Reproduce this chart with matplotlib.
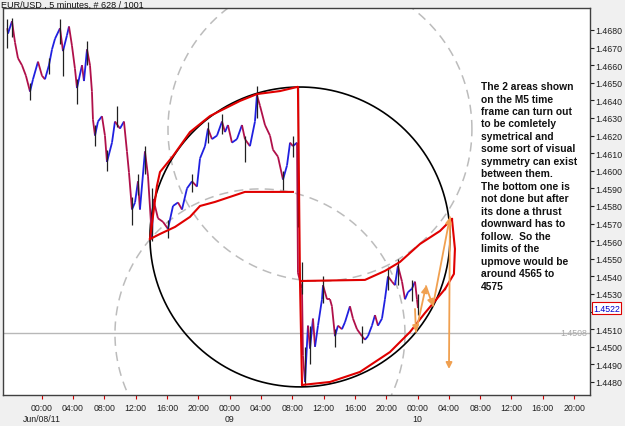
import numpy as np
import matplotlib
matplotlib.use("Agg")
import matplotlib.pyplot as plt
from matplotlib.collections import LineCollection

plt.rcParams['font.family'] = ['Liberation Sans', 'DejaVu Sans']

# EUR/USD 5 min path (hours from Jun/08 00:00)
hours = [-4.39, -4.30, -3.79, -3.41, -3.03, -2.52, -2.01, -1.49, -1.11, -0.47,
         0.04, 0.42, 0.93, 1.32, 1.70, 2.34, 2.72, 3.23, 3.49, 3.87,
         4.25, 4.51, 5.15, 5.40, 5.79, 6.17, 6.42, 6.55, 6.81, 7.19,
         7.70, 8.08, 8.34, 8.98, 9.36, 10.00, 10.51, 10.89, 11.15, 11.53,
         11.92, 12.30, 12.55, 13.19, 13.58, 14.09, 14.22, 14.47, 14.85, 15.49,
         16.13, 16.77, 17.41, 17.92, 18.56, 19.20, 19.83, 20.22, 20.86, 21.24,
         21.75, 22.39, 23.03, 23.41, 23.79, 24.30, 24.94, 25.58, 25.96, 26.60,
         27.24, 27.49, 27.88, 28.52, 29.16, 29.54, 30.18, 30.82, 31.33, 31.72,
         32.09, 32.61, 32.73, 33.25, 33.37, 33.63, 34.01, 34.27, 34.65, 34.91,
         35.29, 35.80, 35.93, 36.44, 36.82, 37.07, 37.46, 37.84, 38.35, 38.74,
         39.37, 39.76, 40.27, 40.91, 41.29, 41.67, 42.18, 42.57, 42.95, 43.46,
         43.84, 44.23, 44.74, 45.12, 45.50, 46.02, 46.40, 46.78, 47.29, 47.68,
         47.93, 48.06]
close = [1.4681, 1.4678, 1.4685, 1.4673, 1.4664, 1.4660, 1.4654, 1.4645, 1.4652, 1.4662,
         1.4654, 1.4652, 1.4660, 1.4669, 1.4675, 1.4681, 1.4668, 1.4677, 1.4682, 1.4671,
         1.4658, 1.4647, 1.4660, 1.4651, 1.4669, 1.4660, 1.4645, 1.4629, 1.4620, 1.4628,
         1.4631, 1.4620, 1.4605, 1.4616, 1.4628, 1.4624, 1.4628, 1.4611, 1.4599, 1.4578,
         1.4582, 1.4594, 1.4578, 1.4611, 1.4597, 1.4561, 1.4584, 1.4580, 1.4573, 1.4571,
         1.4567, 1.4580, 1.4582, 1.4578, 1.4590, 1.4594, 1.4591, 1.4607, 1.4614, 1.4624,
         1.4618, 1.4620, 1.4628, 1.4622, 1.4626, 1.4616, 1.4618, 1.4626, 1.4618, 1.4614,
         1.4628, 1.4643, 1.4637, 1.4626, 1.4620, 1.4612, 1.4608, 1.4595, 1.4603, 1.4616,
         1.4614, 1.4616, 1.4542, 1.4533, 1.4495, 1.4480, 1.4512, 1.4499, 1.4516, 1.4500,
         1.4512, 1.4527, 1.4535, 1.4527, 1.4527, 1.4523, 1.4506, 1.4512, 1.4510, 1.4514,
         1.4523, 1.4516, 1.4510, 1.4506, 1.4504, 1.4506, 1.4512, 1.4518, 1.4512, 1.4516,
         1.4527, 1.4540, 1.4537, 1.4535, 1.4546, 1.4537, 1.4527, 1.4531, 1.4533, 1.4537,
         1.4527, 1.4522]

# bar wicks that stick out of the path
spike_t = [-4.39, -3.79, -1.49, 0.93, 2.34, 2.72, 4.51, 5.79, 6.81, 8.34,
           9.62, 11.53, 12.30, 13.19, 14.09, 16.13, 19.20, 21.24, 23.03, 25.96,
           27.49, 30.82, 32.09, 32.73, 33.25, 33.63, 34.27, 35.93, 37.46, 40.91,
           44.23, 45.50, 47.29, 48.06]
spike_hi = [1.4686, 1.4687, 1.4650, 1.4664, 1.4686, 1.4670, 1.4652, 1.4674, 1.4626, 1.4612,
            1.4637, 1.4585, 1.4598, 1.4614, 1.4590, 1.4572, 1.4598, 1.4628, 1.4632, 1.4620,
            1.4648, 1.4600, 1.4620, 1.4648, 1.4548, 1.4500, 1.4512, 1.4540, 1.4510, 1.4512,
            1.4544, 1.4550, 1.4538, 1.4530]
spike_lo = [1.4670, 1.4676, 1.4640, 1.4655, 1.4672, 1.4654, 1.4638, 1.4660, 1.4614, 1.4600,
            1.4625, 1.4569, 1.4586, 1.4598, 1.4560, 1.4562, 1.4588, 1.4616, 1.4621, 1.4605,
            1.4630, 1.4589, 1.4608, 1.4568, 1.4530, 1.4478, 1.4490, 1.4525, 1.4500, 1.4502,
            1.4532, 1.4535, 1.4526, 1.4518]

# red outlines of the two areas
up_top_t = [13.83, 14.72, 15.11, 16.77, 18.94, 21.49, 22.77, 25.33, 27.50, 30.43, 32.61]
up_top_p = [1.45612, 1.45914, 1.45993, 1.46084, 1.46220, 1.46311, 1.46340, 1.46397, 1.46436, 1.46453, 1.46476]
up_bot_t = [13.83, 15.11, 17.03, 18.94, 20.22, 22.13, 25.96, 28.52, 32.09]
up_bot_p = [1.45612, 1.45641, 1.45681, 1.45738, 1.45800, 1.45823, 1.45880, 1.45880, 1.45880]
split_t = [32.73, 32.99, 33.25]
split_p = [1.46476, 1.45374, 1.44783]
lo_top_t = [33.25, 41.29, 43.84, 45.76, 48.31, 50.87, 52.40]
lo_top_p = [1.45374, 1.45380, 1.45431, 1.45482, 1.45584, 1.45658, 1.45726]
lo_right_t = [52.40, 52.78, 52.65, 51.51]
lo_right_p = [1.45726, 1.45556, 1.45414, 1.45328]
lo_bot_t = [33.25, 36.82, 40.65, 44.48, 47.04, 48.95, 51.51]
lo_bot_p = [1.44783, 1.44800, 1.44857, 1.44970, 1.45084, 1.45192, 1.45328]

# orange projected moves
arrow_t = [47.68, 47.80, 49.08, 49.97, 52.14, 52.02]
arrow_p = [1.45215, 1.45084, 1.45345, 1.45232, 1.45737, 1.44874]

# circles: centre (h, price), radii (h, price)
black_circle = (32.99, 1.45624, 19.16, 0.00852)
dash_circles = [(35.54, 1.46237, 19.41, 0.00864), (27.88, 1.45073, 18.52, 0.00824)]

xticks = list(range(0, 72, 4))
xlabels = ['00:00\nJun/08/11', '04:00', '08:00', '12:00', '16:00', '20:00',
           '00:00\n09', '04:00', '08:00', '12:00', '16:00', '20:00',
           '00:00\n10', '04:00', '08:00', '12:00', '16:00', '20:00']
yticks = [1.4480 + 0.001 * i for i in range(21)]
last_price = 1.4522
ref_line = 1.4508

note = ("The 2 areas shown\non the M5 time\nframe can turn out\nto be comletely\n"
        "symetrical and\nsome sort of visual\nsymmetry can exist\nbetween them.\n"
        "The bottom one is\nnot done but after\nits done a thrust\ndownward has to\n"
        "follow.  So the\nlimits of the\nupmove would be\naround 4565 to\n4575")

fig = plt.figure(figsize=(6.25, 4.27), dpi=100, facecolor='#f0f0f0')
ax = fig.add_axes([3 / 625, 31 / 427, 587 / 625, 387 / 427])
ax.set_facecolor('white')

ax.axhline(ref_line, color='#b8b8b8', lw=1, zorder=1)
ax.text(69.7, ref_line, '%.4f' % ref_line, color='#a8a8a8', fontsize=6.3,
        ha='right', va='center', zorder=1)

th = np.linspace(0, 2 * np.pi, 500)
for cx, cy, rx, ry in dash_circles:
    ax.plot(cx + rx * np.cos(th), cy + ry * np.sin(th), color='#bcbcbc', lw=1.1,
            dashes=(6, 4), zorder=2)
cx, cy, rx, ry = black_circle
ax.plot(cx + rx * np.cos(th), cy + ry * np.sin(th), color='black', lw=1.2, zorder=3)

# price: up moves blue, down moves red, wicks black
pts = np.column_stack([hours, close])
segs = np.stack([pts[:-1], pts[1:]], axis=1)
cols = ['#2020e0' if b > a else '#b0104a' for a, b in zip(close[:-1], close[1:])]
ax.add_collection(LineCollection(segs, colors=cols, linewidths=1.3, zorder=4))
ax.vlines(spike_t, spike_lo, spike_hi, color='#202020', lw=0.9, zorder=4)

red = dict(color='#e00000', lw=1.5, zorder=5)
for tt, pp in [(up_top_t, up_top_p), (up_bot_t, up_bot_p), (split_t, split_p),
               (lo_top_t, lo_top_p), (lo_right_t, lo_right_p), (lo_bot_t, lo_bot_p)]:
    ax.plot(tt, pp, **red)

for i in range(len(arrow_t) - 1):
    ax.annotate('', xy=(arrow_t[i + 1], arrow_p[i + 1]), xytext=(arrow_t[i], arrow_p[i]),
                arrowprops=dict(arrowstyle='-|>', color='#f0a050', lw=1.3,
                                mutation_scale=9, shrinkA=0, shrinkB=0), zorder=6)

ax.text(56.1, 1.46510, note, fontsize=7.4, fontweight='bold', va='top', ha='left',
        linespacing=1.31, color='#111111')

ax.set_xlim(-4.94, 70.03)
ax.set_ylim(1.44726, 1.46925)
ax.yaxis.tick_right()
ax.set_yticks(yticks)
# the 1.4520 label sits under the last-price box
ax.set_yticklabels(['' if abs(v - 1.4520) < 1e-6 else '%.4f' % v for v in yticks])
ax.set_xticks(xticks)
ax.set_xticklabels(xlabels)
ax.tick_params(axis='y', labelsize=6.3, length=3, pad=1, colors='#202020')
ax.tick_params(axis='x', labelsize=6.3, length=3, pad=3, color='#cc0000', labelcolor='#202020')
for s in ax.spines.values():
    s.set_color('#404040')
    s.set_linewidth(1)

ax.text(1.005, last_price, '%.4f' % last_price, transform=ax.get_yaxis_transform(),
        fontsize=6.3, color='#0000cc', va='center', ha='left',
        bbox=dict(fc='white', ec='#dd0000', lw=0.8, pad=0.8))

fig.text(1 / 625, 1 - 5 / 427, 'EUR/USD , 5 minutes, # 628 / 1001', fontsize=6.5,
         va='center', ha='left', color='#111111')

fig.savefig('out.png', dpi=100, facecolor=fig.get_facecolor())
